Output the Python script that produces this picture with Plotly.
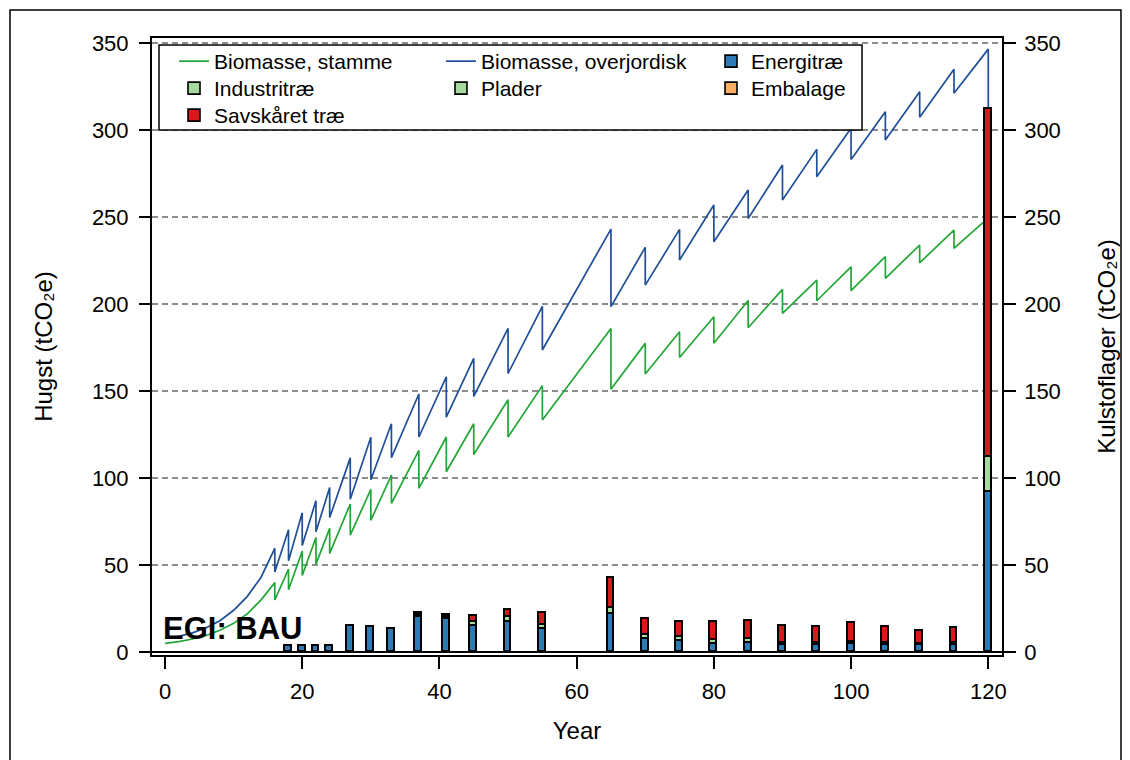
import plotly.graph_objects as go

# ---------------- data ----------------
growth_years = [0, 2, 4, 6, 8, 10, 12, 14]
stamme_growth = [5.0, 6.0, 7.5, 9.5, 12.5, 16.5, 22.0, 30.0]
overjord_growth = [8.0, 9.0, 11.0, 14.0, 18.0, 24.0, 32.0, 43.0]

thinning_years = [16, 18, 20, 22, 24, 27, 30, 33, 37, 41, 45, 50, 55,
                  65, 70, 75, 80, 85, 90, 95, 100, 105, 110, 115, 120]
stamme_before = [39.9, 47.6, 58.1, 65.8, 71.1, 85.1, 93.5, 101.7, 115.9, 123.6, 131.2, 145.0, 153.1,
                 186.0, 177.4, 184.1, 192.7, 202.0, 208.4, 213.8, 221.4, 227.2, 233.9, 242.5, 249.5]
stamme_after = [29.9, 35.8, 44.0, 50.5, 56.7, 67.2, 75.7, 85.5, 94.1, 103.6, 113.5, 123.6, 133.3,
                151.0, 159.8, 169.3, 177.5, 186.4, 194.6, 201.9, 207.7, 214.8, 223.7, 232.0, 0.0]
overjord_before = [59.6, 70.3, 80.0, 87.0, 94.5, 111.6, 123.4, 131.2, 148.3, 158.2, 168.8, 186.0, 198.7,
                   243.1, 232.6, 242.9, 256.9, 265.5, 279.9, 288.9, 301.0, 310.5, 322.0, 334.9, 346.5]
overjord_after = [46.0, 52.4, 61.2, 69.2, 77.3, 87.8, 99.0, 111.7, 123.6, 135.0, 146.9, 160.1, 173.6,
                  198.5, 210.9, 225.3, 235.8, 249.2, 259.8, 273.2, 283.1, 294.3, 307.3, 321.1, 0.0]

harvest_years = [18, 20, 22, 24, 27, 30, 33, 37, 41, 45, 50, 55,
                 65, 70, 75, 80, 85, 90, 95, 100, 105, 110, 115, 120]
energitrae = [3.5, 3.5, 3.5, 3.5, 14.8, 14.2, 13.2, 20.2, 19.0, 15.0, 17.4, 13.2,
              21.6, 7.3, 6.5, 4.6, 5.0, 4.0, 4.0, 4.6, 4.2, 3.8, 4.2, 92.0]
industritrae = [0, 0, 0, 0, 0, 0, 0, 1.2, 1.2, 2.0, 2.5, 2.4,
                4.0, 2.5, 2.3, 2.5, 2.3, 1.2, 1.0, 1.2, 1.0, 0.6, 1.0, 20.0]
plader = [0] * 24
embalage = [0] * 24
savskaaret = [0, 0, 0, 0, 0, 0, 0, 1.0, 1.0, 3.5, 4.2, 7.0,
              16.7, 9.0, 8.6, 9.9, 10.3, 9.9, 9.4, 10.7, 9.4, 7.8, 8.4, 200.0]

y_ticks = [0, 50, 100, 150, 200, 250, 300, 350]
x_ticks = [0, 20, 40, 60, 80, 100, 120]

# ---------------- build line series ----------------
def build(gy, gv, ty, before, after):
    xs, ys = list(gy), list(gv)
    for t, b, a in zip(ty, before, after):
        xs += [t, t]
        ys += [b, a]
    return xs, ys

sx, sy = build(growth_years, stamme_growth, thinning_years, stamme_before, stamme_after)
ox, oy = build(growth_years, overjord_growth, thinning_years, overjord_before, overjord_after)

FONT = "Liberation Sans, Arial, sans-serif"
GREEN_LINE = "#23a637"
BLUE_LINE = "#1f4f96"
COL1_W, COL2_W = 222, 225

fig = go.Figure()
fig.add_trace(go.Scatter(x=sx, y=sy, mode="lines", name="Biomasse, stamme",
                         line=dict(color=GREEN_LINE, width=1.7), yaxis="y",
                         legend="legend", legendwidth=COL1_W))
fig.add_trace(go.Scatter(x=ox, y=oy, mode="lines", name="Biomasse, overjordisk",
                         line=dict(color=BLUE_LINE, width=1.7), yaxis="y",
                         legend="legend", legendwidth=COL2_W))

bar_specs = [
    ("Energitræ", energitrae, "#2c7bb6", "legend", None),
    ("Industritræ", industritrae, "#a6dba0", "legend2", COL1_W),
    ("Plader", plader, "#a6dba0", "legend2", COL2_W),
    ("Embalage", embalage, "#fdae61", "legend2", None),
    ("Savskåret træ", savskaaret, "#d7191c", "legend3", None),
]
for name, vals, col, lg, lw in bar_specs:
    fig.add_trace(go.Bar(x=harvest_years, y=vals, name=name, width=1.0,
                         marker=dict(color=col, line=dict(color="black", width=1.6)),
                         yaxis="y2", legend=lg, legendwidth=lw))

# ---------------- layout ----------------
L, R, T, B = 152, 1002, 38, 655
W, H = 1130, 760
pw, ph = R - L, B - T

def px(xp):
    return (xp - L) / pw

def py(yp):
    return (B - yp) / ph

axis_common = dict(ticks="outside", ticklen=12, tickwidth=1.5, tickcolor="black",
                   tickfont=dict(size=22, color="black", family=FONT))

leg_common = dict(bgcolor="rgba(0,0,0,0)", borderwidth=0, font=dict(size=21, color="black", family=FONT),
                  xanchor="left", yanchor="top", orientation="h", traceorder="normal")

fig.update_layout(
    width=W, height=H,
    margin=dict(l=L, r=W - R, t=T, b=H - B),
    paper_bgcolor="white", plot_bgcolor="white",
    font=dict(family=FONT, color="black"),
    barmode="stack", bargap=0,
    xaxis=dict(range=[-1.9, 122.0], tickvals=x_ticks, showgrid=False, zeroline=False,
               showline=True, linecolor="black", linewidth=1.5, mirror=True,
               ticklabelstandoff=4,
               title=dict(text="Year", font=dict(size=24, family=FONT, color="black"), standoff=19),
               **axis_common),
    yaxis=dict(range=[-1.7, 352.9], tickvals=y_ticks, side="right",
               showgrid=True, gridcolor="#8c8c8c", gridwidth=1.5, griddash="6px,4px",
               zeroline=True, zerolinecolor="black", zerolinewidth=2,
               showline=True, linecolor="black", linewidth=1.5, mirror=True,
               ticklabelstandoff=4,
               title=dict(text="Kulstoflager (tCO₂e)", font=dict(size=24, family=FONT, color="black"), standoff=38),
               **axis_common),
    yaxis2=dict(range=[-1.7, 352.9], tickvals=y_ticks, side="left", overlaying="y",
                showgrid=False, zeroline=False, showline=False,
                ticklabelstandoff=6,
                title=dict(text="Hugst (tCO₂e)", font=dict(size=24, family=FONT, color="black"), standoff=32),
                **axis_common),
    legend=dict(x=px(174), y=py(41), **leg_common),
    legend2=dict(x=px(174), y=py(68), **leg_common),
    legend3=dict(x=px(174), y=py(95), **leg_common),
    showlegend=True,
)

# legend frame
fig.add_shape(type="rect", xref="paper", yref="paper",
              x0=px(159), x1=px(862), y0=py(130), y1=py(45),
              fillcolor="white", line=dict(color="black", width=1.5), layer="above")
# outer figure frame
fig.add_shape(type="rect", xref="paper", yref="paper",
              x0=px(10), x1=px(1121), y0=py(775), y1=py(10),
              fillcolor="rgba(0,0,0,0)", line=dict(color="black", width=1.5), layer="above")

fig.add_annotation(text="<b>EGI: BAU</b>", xref="paper", yref="paper",
                   x=px(161), y=py(648), xanchor="left", yanchor="bottom", showarrow=False,
                   font=dict(size=31, family=FONT, color="black"))

fig.write_html("out.html", config={"displayModeBar": False},
               post_script="document.body.style.margin='0';document.body.style.overflow='hidden';")
